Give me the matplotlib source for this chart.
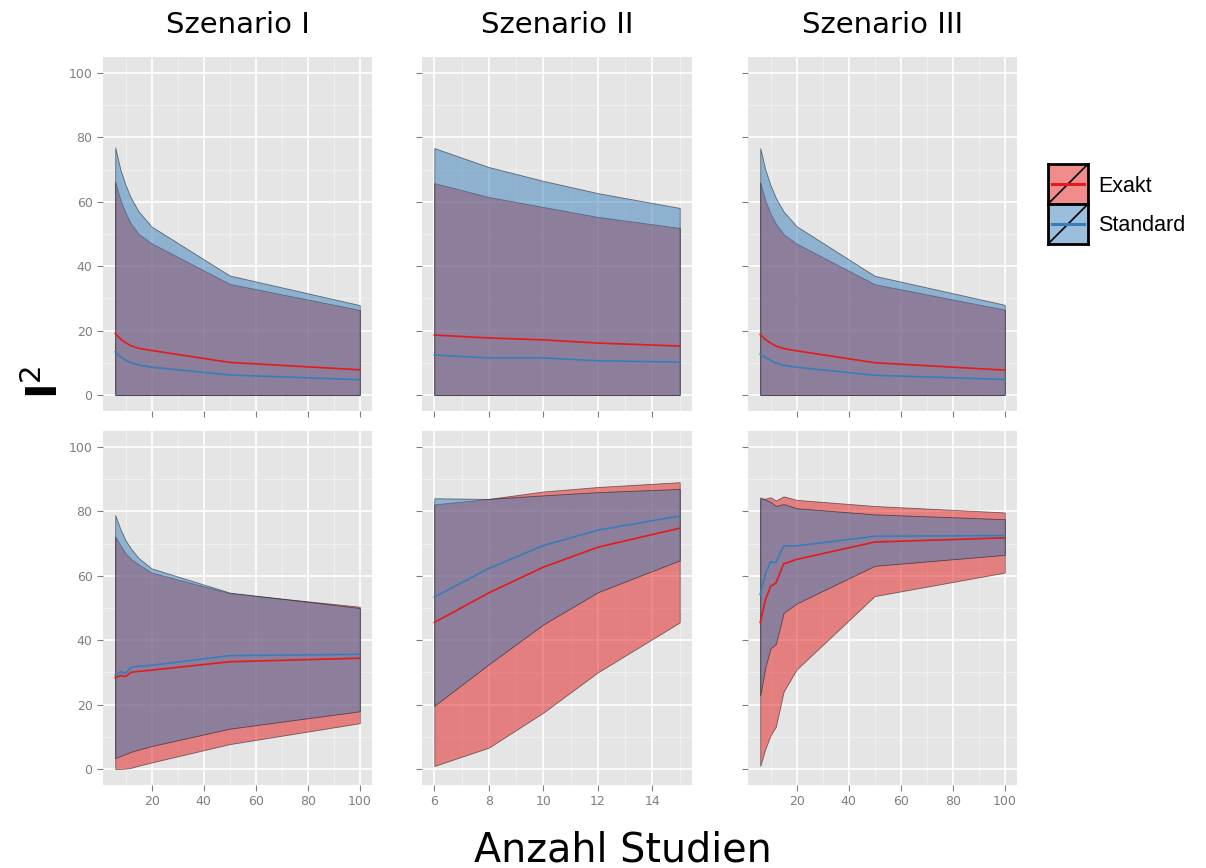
import numpy as np
import matplotlib
matplotlib.use("Agg")
import matplotlib.pyplot as plt

# x values (Anzahl Studien)
x_s1 = [6, 8, 10, 12, 15, 20, 50, 100]
x_s2 = [6, 8, 10, 12, 15]
x_s3 = [6, 8, 10, 12, 15, 20, 50, 100]

# top row, Szenario I
t1_ex_lo = [0, 0, 0, 0, 0, 0, 0, 0]
t1_ex_hi = [66.2, 60.5, 56.5, 53.3, 50.0, 47.1, 34.5, 26.4]
t1_ex_mid = [19.1, 17.4, 16.2, 15.3, 14.5, 13.8, 10.1, 7.8]
t1_st_lo = [0, 0, 0, 0, 0, 0, 0, 0]
t1_st_hi = [76.9, 70.0, 65.2, 61.3, 57.0, 52.3, 37.1, 27.9]
t1_st_mid = [13.4, 11.8, 10.8, 10.0, 9.3, 8.6, 6.2, 4.7]

# top row, Szenario II
t2_ex_lo = [0, 0, 0, 0, 0]
t2_ex_hi = [65.8, 61.5, 58.4, 55.3, 51.9]
t2_ex_mid = [18.6, 17.7, 17.1, 16.1, 15.2]
t2_st_lo = [0, 0, 0, 0, 0]
t2_st_hi = [76.7, 70.8, 66.5, 62.7, 58.1]
t2_st_mid = [12.4, 11.5, 11.5, 10.6, 10.2]

# top row, Szenario III
t3_ex_lo = [0, 0, 0, 0, 0, 0, 0, 0]
t3_ex_hi = [66.0, 60.3, 56.3, 53.2, 49.9, 47.0, 34.4, 26.5]
t3_ex_mid = [18.8, 17.2, 16.1, 15.2, 14.4, 13.7, 10.0, 7.7]
t3_st_lo = [0, 0, 0, 0, 0, 0, 0, 0]
t3_st_hi = [76.7, 69.9, 65.1, 61.2, 57.0, 52.4, 37.0, 28.0]
t3_st_mid = [12.7, 11.6, 10.7, 9.9, 9.2, 8.6, 6.1, 4.8]

# bottom row, Szenario I
b1_ex_lo = [0, 0, 0.1, 0.3, 1.0, 2.0, 7.7, 14.2]
b1_ex_hi = [72.2, 69.5, 67.0, 65.3, 63.5, 61.0, 54.6, 50.4]
b1_ex_mid = [28.3, 29.0, 28.7, 30.0, 30.3, 30.7, 33.3, 34.4]
b1_st_lo = [3.4, 4.0, 4.6, 5.3, 6.0, 7.1, 12.5, 17.9]
b1_st_hi = [78.9, 74.5, 71.0, 68.5, 65.5, 62.3, 54.8, 50.0]
b1_st_mid = [29.1, 30.2, 29.7, 31.5, 31.9, 32.2, 35.2, 35.6]

# bottom row, Szenario II
b2_ex_lo = [0.9, 6.6, 17.5, 30.0, 45.5]
b2_ex_hi = [82.2, 83.9, 86.2, 87.6, 89.1]
b2_ex_mid = [45.5, 54.7, 62.7, 68.9, 74.8]
b2_st_lo = [19.6, 32.5, 44.9, 54.9, 64.8]
b2_st_hi = [84.1, 83.9, 85.0, 86.0, 87.0]
b2_st_mid = [53.4, 62.3, 69.4, 74.2, 78.6]

# bottom row, Szenario III
b3_ex_lo = [0.9, 6.3, 10.5, 13.1, 24.0, 30.9, 53.7, 61.0]
b3_ex_hi = [83.9, 84.0, 84.4, 83.4, 84.7, 83.6, 81.7, 79.7]
b3_ex_mid = [45.5, 52.5, 56.8, 57.7, 63.7, 65.1, 70.5, 71.8]
b3_st_lo = [22.9, 31.7, 37.5, 38.8, 48.5, 51.4, 63.1, 66.5]
b3_st_hi = [84.4, 83.6, 83.0, 81.7, 82.3, 81.0, 79.1, 77.6]
b3_st_mid = [54.2, 60.6, 64.4, 64.1, 69.3, 69.3, 72.3, 72.5]

titles = ["Szenario I", "Szenario II", "Szenario III"]
legend_labels = ["Exakt", "Standard"]

red = "#E41A1C"
blue = "#377EB8"

W, H = 1206, 868
fig = plt.figure(figsize=(W / 100, H / 100), dpi=100)


def px_axes(l, t, r, b):
    return fig.add_axes([l / W, 1 - b / H, (r - l) / W, (b - t) / H])


cols = [(103, 372), (422, 692), (748, 1017)]
rows = [(57, 411), (431, 785)]

panels = [
    [(x_s1, t1_ex_lo, t1_ex_hi, t1_ex_mid, t1_st_lo, t1_st_hi, t1_st_mid),
     (x_s2, t2_ex_lo, t2_ex_hi, t2_ex_mid, t2_st_lo, t2_st_hi, t2_st_mid),
     (x_s3, t3_ex_lo, t3_ex_hi, t3_ex_mid, t3_st_lo, t3_st_hi, t3_st_mid)],
    [(x_s1, b1_ex_lo, b1_ex_hi, b1_ex_mid, b1_st_lo, b1_st_hi, b1_st_mid),
     (x_s2, b2_ex_lo, b2_ex_hi, b2_ex_mid, b2_st_lo, b2_st_hi, b2_st_mid),
     (x_s3, b3_ex_lo, b3_ex_hi, b3_ex_mid, b3_st_lo, b3_st_hi, b3_st_mid)],
]

for i, (top, bottom) in enumerate(rows):
    for j, (left, right) in enumerate(cols):
        ax = px_axes(left, top, right, bottom)
        x, ex_lo, ex_hi, ex_mid, st_lo, st_hi, st_mid = panels[i][j]

        ax.fill_between(x, ex_lo, ex_hi, facecolor=red, alpha=0.5,
                        edgecolor="black", linewidth=0.6, zorder=2)
        ax.fill_between(x, st_lo, st_hi, facecolor=blue, alpha=0.5,
                        edgecolor="black", linewidth=0.6, zorder=3)
        ax.plot(x, ex_mid, color=red, lw=1.2, zorder=4)
        ax.plot(x, st_mid, color=blue, lw=1.2, zorder=4)

        span = max(x) - min(x)
        ax.set_xlim(min(x) - 0.05 * span, max(x) + 0.05 * span)
        ax.set_ylim(-5, 105)

        if j == 1:
            ax.set_xticks([6, 8, 10, 12, 14])
            ax.set_xticks([7, 9, 11, 13, 15], minor=True)
        else:
            ax.set_xticks([20, 40, 60, 80, 100])
            ax.set_xticks([10, 30, 50, 70, 90], minor=True)
        ax.set_yticks([0, 20, 40, 60, 80, 100])
        ax.set_yticks([10, 30, 50, 70, 90], minor=True)

        ax.set_facecolor("#E5E5E5")
        for s in ax.spines.values():
            s.set_visible(False)
        ax.set_axisbelow(True)
        ax.grid(which="major", color="white", lw=1.2)
        ax.grid(which="minor", color="#F2F2F2", lw=0.6)
        ax.tick_params(which="major", length=4, width=0.8, color="#7F7F7F",
                       labelcolor="#7F7F7F", labelsize=9)
        ax.tick_params(which="minor", length=0)
        if i == 0:
            ax.tick_params(labelbottom=False)
        if j > 0:
            ax.tick_params(labelleft=False)

for j, (left, right) in enumerate(cols):
    fig.text((left + right) / 2 / W, 1 - 25 / H, titles[j],
             ha="center", va="center", fontsize=21)

fig.text(623 / W, 1 - 850 / H, "Anzahl Studien", ha="center", va="center",
         fontsize=28.5)
fig.text(46 / W, 1 - 382 / H, r"$\mathbf{I}^{2}$", ha="center", va="center",
         rotation=90, fontsize=30)

# legend drawn by hand
for k, c in enumerate([red, blue]):
    top = 164 + k * 40
    lax = px_axes(1048, top, 1088, top + 40)
    lax.set_xlim(0, 1)
    lax.set_ylim(0, 1)
    lax.set_xticks([])
    lax.set_yticks([])
    lax.set_facecolor("white")
    lax.fill_between([0, 1], 0, 1, facecolor=c, alpha=0.5, edgecolor="none")
    lax.plot([0, 1], [0, 1], color="black", lw=1.2)
    lax.plot([0.1, 0.9], [0.5, 0.5], color=c, lw=2.2)
    for s in lax.spines.values():
        s.set_linewidth(2)
        s.set_color("black")
    fig.text(1098 / W, 1 - (top + 22) / H, legend_labels[k], ha="left",
             va="center", fontsize=15.5, family="Liberation Sans")

fig.savefig("out.png", dpi=100)
